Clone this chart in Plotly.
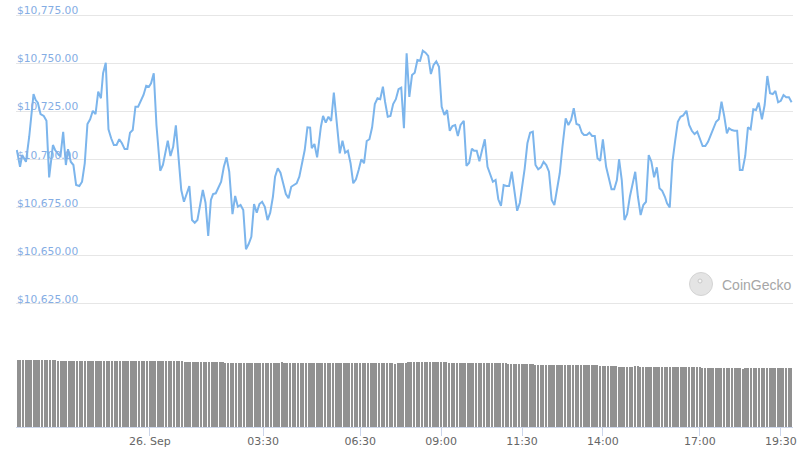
import pandas as pd
import plotly.graph_objects as go

# ---------------- data ----------------
# price samples: minutes relative to 26 Sep 2020 00:00, and USD price
price_minutes = [
    -247, -241, -237, -234, -230, -224, -216, -212, -208, -203,
    -197, -192, -187, -180, -176, -169, -166, -161, -156, -152,
    -147, -142, -137, -131, -126, -121, -116, -111, -106, -101,
    -96, -91, -87, -82, -77, -72, -67, -62, -57, -52,
    -47, -42, -37, -32, -27, -22, -17, -12, -7, -2,
    2, 7, 12, 19, 24, 28, 33, 38, 43, 48,
    53, 58, 63, 68, 73, 78, 83, 88, 93, 98,
    103, 108, 113, 117,
    122, 127, 132, 137, 142, 147, 153, 158, 163, 168,
    173, 178, 183, 188, 193, 198, 203, 208, 213, 218,
    223, 228, 232, 237, 242, 247, 252, 257, 262, 267,
    272, 277, 282, 287, 292, 297, 300, 305, 310, 317,
    321, 326, 331, 336, 341, 346, 352, 357, 362, 367,
    372, 377, 382, 387, 392, 397, 402, 407, 412, 417,
    422, 427, 432, 436, 441, 446, 451, 456, 461, 466,
    471, 476, 481,
    486, 491, 496, 501, 506, 511, 516, 521, 526, 531,
    536, 541, 546, 551, 556, 561, 566, 571, 576, 582,
    587, 592, 597, 601, 606, 611, 616, 621, 626, 631,
    636, 641, 646, 651, 656, 661, 666, 671, 676, 681,
    686, 690, 695, 700, 705, 710, 715, 720, 725, 730,
    735, 740, 745, 750, 755, 760, 765, 771, 776, 781,
    786, 791, 796, 801, 805, 810, 815, 820, 825, 830,
    835, 840,
    846, 851, 856, 861, 866, 870, 875, 880, 885, 890,
    895, 900, 905, 910, 915, 920, 925, 930, 935, 940,
    945, 950, 955, 959, 964, 969, 974, 979, 984, 989,
    995, 1000, 1005, 1010, 1015, 1020, 1025, 1030, 1035, 1040,
    1045, 1050, 1055, 1060, 1065, 1070, 1074, 1079, 1084, 1089,
    1094, 1099, 1104, 1109, 1114, 1119, 1124, 1129, 1135, 1140,
    1145, 1150, 1155, 1160, 1165, 1170, 1175, 1180, 1185, 1190,
]

price_usd = [
    10704.8, 10696.1, 10702.2, 10700.5, 10698.7, 10711.7, 10733.9, 10730.8, 10729.4, 10723.5,
    10722.5, 10720.0, 10690.6, 10707.4, 10704.8, 10702.2, 10701.7, 10714.3, 10697.0, 10705.2,
    10698.7, 10697.0, 10686.6, 10686.1, 10688.3, 10697.9, 10718.3, 10720.8, 10725.2, 10723.5,
    10735.1, 10731.7, 10744.7, 10750.2, 10715.6, 10710.9, 10707.4, 10707.4, 10710.4, 10708.3,
    10705.3, 10705.3, 10713.8, 10715.2, 10727.3, 10727.3, 10730.4, 10733.4, 10738.2, 10737.7,
    10739.5, 10744.7, 10717.8, 10694.0, 10697.0, 10703.1, 10709.6, 10701.7, 10706.5, 10717.6,
    10701.3, 10684.0, 10677.9, 10682.3, 10686.1, 10668.4, 10667.0, 10668.4, 10675.3, 10684.0,
    10677.4, 10660.1, 10678.8, 10681.9,
    10682.3, 10684.9, 10688.3, 10696.1, 10701.0, 10693.5, 10671.5, 10680.9, 10675.3, 10676.2,
    10673.6, 10653.2, 10655.9, 10659.7, 10676.7, 10672.2, 10676.7, 10677.9, 10675.3, 10668.4,
    10672.2, 10680.5, 10690.9, 10695.3, 10693.0, 10687.5, 10681.9, 10679.7, 10685.7, 10686.6,
    10687.5, 10690.9, 10697.0, 10704.8, 10716.6, 10716.4, 10705.7, 10707.9, 10701.0, 10716.9,
    10722.5, 10719.0, 10722.1, 10719.9, 10734.6, 10720.4, 10703.1, 10709.6, 10703.4, 10704.4,
    10697.9, 10687.5, 10689.6, 10694.4, 10700.0, 10697.9, 10709.5, 10710.4, 10716.6, 10728.7,
    10731.7, 10731.2, 10737.7, 10729.9, 10722.1, 10722.5, 10728.7, 10731.2, 10736.4, 10737.2,
    10716.1, 10755.1, 10732.4,
    10743.8, 10745.0, 10751.6, 10751.2, 10756.4, 10755.4, 10753.7, 10744.3, 10749.0, 10750.9,
    10748.1, 10727.3, 10723.0, 10725.6, 10714.8, 10717.3, 10717.8, 10712.1, 10717.8, 10720.0,
    10696.5, 10698.2, 10705.5, 10704.4, 10704.4, 10698.9, 10704.8, 10710.4, 10696.1, 10692.7,
    10688.3, 10689.2, 10679.2, 10675.7, 10686.6, 10686.1, 10686.1, 10693.5, 10684.0, 10673.2,
    10677.4, 10684.4, 10695.3, 10708.3, 10713.8, 10714.3, 10697.0, 10694.8, 10695.8, 10698.7,
    10697.0, 10693.5, 10678.8, 10676.2, 10684.0, 10692.7, 10706.5, 10721.3, 10717.8, 10720.4,
    10726.5, 10718.3, 10717.8, 10713.8, 10712.6, 10712.6, 10713.8, 10712.1, 10712.1, 10700.5,
    10699.2, 10710.4,
    10696.1, 10690.9, 10684.4, 10684.4, 10689.2, 10700.0, 10689.2, 10668.4, 10671.5, 10680.5,
    10687.1, 10693.5, 10680.5, 10671.0, 10676.2, 10677.9, 10702.2, 10698.7, 10690.6, 10695.8,
    10684.9, 10683.6, 10680.5, 10677.1, 10675.0, 10698.7, 10709.6, 10719.5, 10722.1, 10722.8,
    10725.2, 10717.8, 10714.8, 10713.1, 10714.3, 10710.9, 10706.9, 10706.9, 10709.1, 10712.6,
    10716.6, 10719.5, 10720.8, 10729.9, 10722.5, 10713.5, 10716.1, 10715.2, 10714.8, 10714.8,
    10694.4, 10694.4, 10701.7, 10716.6, 10715.6, 10726.0, 10725.6, 10729.4, 10720.8, 10728.2,
    10743.3, 10734.3, 10733.9, 10735.5, 10729.6, 10730.4, 10733.4, 10732.2, 10732.2, 10729.6,
]

# 24h volume (billion USD), one bar per 5 minutes starting 25 Sep 19:55
volume_bn = [
    33.5, 33.5, 33.5, 33.5, 33.5, 33.5, 33.5, 33.5, 33.5, 33.5, 33.5, 33.5, 33.5, 33.5, 33.5,
    33.0, 33.0, 33.0, 33.0, 33.0, 33.0, 33.0, 33.0, 33.0, 33.0, 33.0, 33.0, 33.0, 33.0, 33.0,
    33.1, 33.1, 33.1, 33.1, 33.1, 33.1, 33.1, 33.1, 33.1, 33.1, 33.1, 33.1, 33.1, 33.1, 33.1, 33.1,
    33.1, 33.1, 33.1, 33.1, 33.1, 33.1, 33.1, 33.1, 33.1, 33.1, 33.1, 33.1, 33.1, 33.1, 33.1, 33.1,
    32.6, 32.6,
    32.3, 32.3, 32.3, 32.3, 32.3,
    32.5, 32.5, 32.5, 32.5, 32.5, 32.5,
    32.3, 32.3,
    32.2, 32.2, 32.2, 32.2, 32.2, 32.2, 32.2, 32.2, 32.2, 32.2, 32.2, 32.2, 32.2, 32.2, 32.2, 32.2,
    32.2, 32.2, 32.2, 32.2, 32.2,
    32.7,
    32.2, 32.2, 32.2, 32.2, 32.2, 32.2,
    32.2, 32.2, 32.2, 32.2, 32.2, 32.2, 32.2, 32.2, 32.2, 32.2, 32.2, 32.2, 32.2, 32.2, 32.2, 32.2,
    32.2, 32.2, 32.2, 32.2, 32.2,
    31.9,
    32.1, 32.1, 32.1, 32.1, 32.1, 32.1, 32.1, 32.1, 32.1, 32.1, 32.1, 32.1, 32.1,
    31.7,
    32.2, 32.2, 32.2, 32.2,
    32.7, 32.7, 32.7, 32.7, 32.7, 32.7, 32.7, 32.7, 32.7,
    32.3, 32.3, 32.3, 32.3,
    32.6, 32.6,
    32.2, 32.2, 32.2, 32.2, 32.2, 32.2, 32.2, 32.2, 32.2, 32.2, 32.2, 32.2, 32.2, 32.2, 32.2, 32.2,
    32.2, 32.2, 32.2, 32.2, 32.2,
    31.9,
    31.4, 31.4, 31.4, 31.4, 31.4,
    31.6, 31.6, 31.6, 31.6, 31.6,
    31.1, 31.1, 31.1, 31.1, 31.1, 31.1, 31.1, 31.1, 31.1, 31.1, 31.1, 31.1,
    31.1, 31.1, 31.1, 31.1, 31.1, 31.1, 31.1, 31.1, 31.1, 31.1, 31.1, 31.1,
    30.6, 30.6, 30.6, 30.6, 30.6, 30.6, 30.6,
    30.2, 30.2, 30.2, 30.2, 30.2, 30.2,
    30.5, 30.5,
    30.0, 30.0, 30.0,
    30.1, 30.1, 30.1, 30.1, 30.1, 30.1, 30.1, 30.1, 30.1, 30.1,
    30.1, 30.1, 30.1, 30.1, 30.1, 30.1, 30.1, 30.1, 30.1, 30.1,
    29.6, 29.6, 29.6, 29.6, 29.6, 29.6, 29.6, 29.6, 29.6, 29.6, 29.6, 29.6, 29.6, 29.6, 29.6,
    29.0,
    29.4, 29.4, 29.4, 29.4, 29.4, 29.4, 29.4, 29.4, 29.4, 29.4, 29.4, 29.4, 29.4, 29.4, 29.4, 29.4,
    29.4, 29.4,
]

tick_times = ["2020-09-26 00:00", "2020-09-26 03:30", "2020-09-26 06:30", "2020-09-26 09:00",
              "2020-09-26 11:30", "2020-09-26 14:00", "2020-09-26 17:00", "2020-09-26 19:30"]
tick_labels = ["26. Sep", "03:30", "06:30", "09:00", "11:30", "14:00", "17:00", "19:30"]
price_ticks = [10625, 10650, 10675, 10700, 10725, 10750, 10775]

# ---------------- build ----------------
day0 = pd.Timestamp("2020-09-26 00:00")
price_time = [day0 + pd.Timedelta(minutes=m) for m in price_minutes]
vol_time = pd.date_range("2020-09-25 19:55", periods=len(volume_bn), freq="5min")

W, H = 809, 458
T, B, L, R = 0, 31, 16, 16
PH = H - T - B


def py(pix):
    return (H - B - pix) / PH


# price axis geometry: 10775 gridline at y=15px, 10625 gridline at y=303.5px
g_top, g_bot = 15.0, 303.5
ppu = (g_bot - g_top) / (10775 - 10625)
pix_hi = 0.0
p_hi = 10775 + (g_top - pix_hi) / ppu
p_lo = 10620
pix_lo = g_bot + (10625 - p_lo) * ppu

x_range = ["2020-09-25 19:51:30", "2020-09-26 19:52:36"]

fig = go.Figure()
fig.add_trace(go.Scatter(
    x=price_time, y=price_usd, mode="lines",
    line=dict(color="#7cb5ec", width=2), xaxis="x", yaxis="y",
    hoverinfo="skip", showlegend=False,
))
fig.add_trace(go.Bar(
    x=vol_time, y=volume_bn, width=185000,
    marker=dict(color="#919191", line=dict(width=0)),
    xaxis="x2", yaxis="y2", hoverinfo="skip", showlegend=False,
))

fig.update_layout(
    width=W, height=H,
    margin=dict(l=L, r=R, t=T, b=B),
    paper_bgcolor="white", plot_bgcolor="white",
    bargap=0,
    xaxis=dict(domain=[0, 1], range=x_range, type="date", anchor="y",
               visible=False, showgrid=False),
    yaxis=dict(domain=[py(pix_lo), py(pix_hi)], range=[p_lo, p_hi],
               tickvals=price_ticks, tickformat="$,.2f",
               ticklabelposition="inside top", side="left",
               ticklabelshift=3, ticklabelstandoff=-2,
               tickfont=dict(family="DejaVu Sans", size=10.7, color="#85ade4"),
               showgrid=True, gridcolor="#e6e6e6", gridwidth=1,
               zeroline=False, showline=False, ticks=""),
    xaxis2=dict(domain=[0, 1], range=x_range, type="date", anchor="y2",
                matches="x", tickvals=tick_times, ticktext=tick_labels,
                tickfont=dict(family="DejaVu Sans", size=11, color="#666666"),
                showline=True, linecolor="#ccd6eb", linewidth=1,
                ticks="outside", ticklen=8, tickcolor="#ccd6eb", tickwidth=1,
                ticklabelstandoff=-4,
                showgrid=False, zeroline=False),
    yaxis2=dict(domain=[0, py(359)], range=[0, 34], visible=False,
                showgrid=False, zeroline=False),
)

# CoinGecko watermark
cx, cy, r = 701, 284, 11.5
fig.add_shape(type="circle", xref="paper", yref="paper",
              x0=(cx - r - L) / (W - L - R), x1=(cx + r - L) / (W - L - R),
              y0=py(cy + r), y1=py(cy - r),
              fillcolor="#e4e4e4", line=dict(color="#d4d4d4", width=1))
fig.add_shape(type="circle", xref="paper", yref="paper",
              x0=(cx - 3 - L) / (W - L - R), x1=(cx + 1 - L) / (W - L - R),
              y0=py(cy - 1), y1=py(cy - 5),
              fillcolor="#f6f6f6", line=dict(color="#c8c8c8", width=1))
fig.add_annotation(text="CoinGecko", xref="paper", yref="paper",
                   x=(720 - L) / (W - L - R), y=py(285), xanchor="left", yanchor="middle",
                   showarrow=False,
                   font=dict(family="Liberation Sans, Arial", size=14, color="#a6a6a6"))

fig.write_html(
    "out.html",
    config={"displayModeBar": False},
    post_script="document.body.style.margin='0';document.body.style.overflow='hidden';",
)
